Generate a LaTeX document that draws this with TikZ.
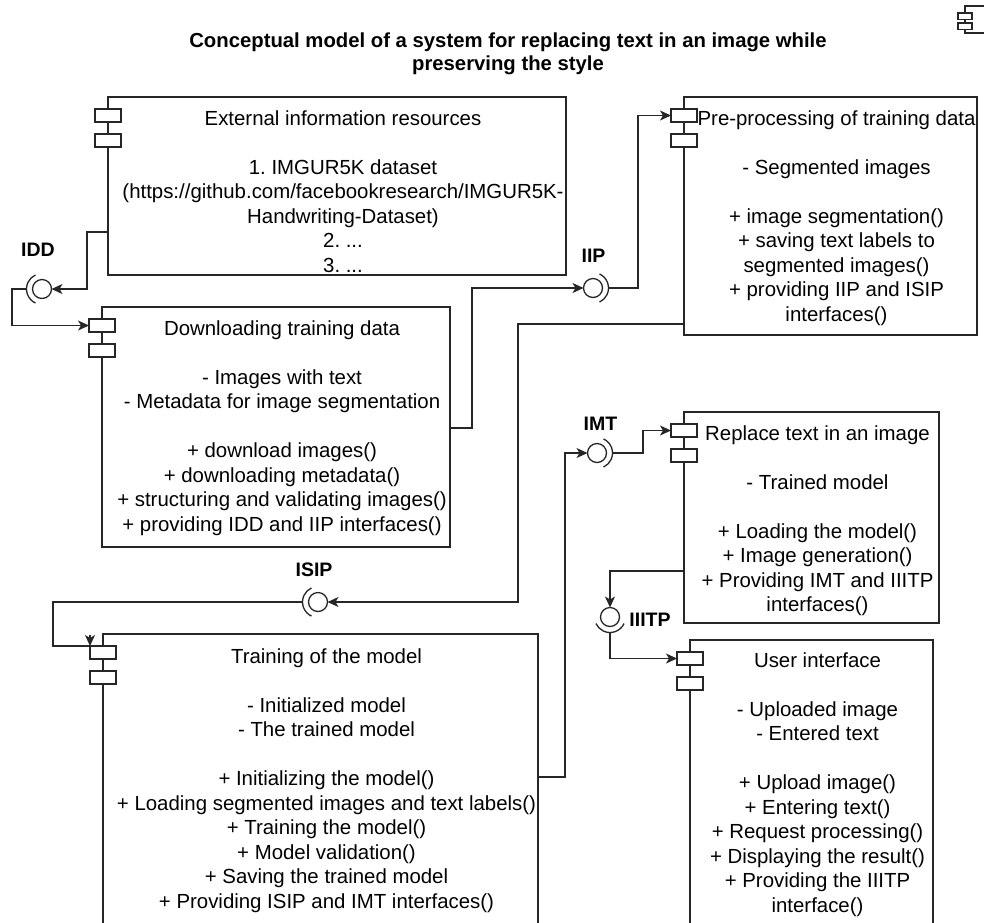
\documentclass[tikz,border=0pt]{standalone}
\usepackage{fontspec}
\setmainfont{Liberation Sans}
\usetikzlibrary{arrows.meta,calc}
\frenchspacing
\begin{document}
\begin{tikzpicture}[x=1pt,y=-1pt,
  wire/.style={draw=black!85, line width=1.3pt},
  conn/.style={wire, -{Stealth[length=11pt,width=10pt,inset=3pt]}},
  compbox/.style={draw=black!85, line width=1.3pt, fill=white, rectangle, inner sep=0, outer sep=0, anchor=north west},
  port/.style={draw=black!85, line width=1.3pt, fill=white, rectangle, inner sep=0, outer sep=0, minimum width=26pt, minimum height=13pt},
  body/.style={inner sep=0, anchor=north, align=center, font=\fontsize{20.4}{24.5}\selectfont},
  ball/.style={circle, draw=black!85, line width=1.3pt, fill=white, minimum size=19pt, inner sep=0, outer sep=0},
  socket/.style={draw=black!85, line width=1.3pt},
  iface/.style={font=\bfseries\fontsize{19.5}{22}\selectfont, inner sep=0},
  heading/.style={font=\bfseries\fontsize{20.3}{23}\selectfont, align=center, inner sep=0, anchor=north}
]
\useasboundingbox (0,0) rectangle (984,922);
\clip (0,0) rectangle (984,922);
\fill[white] (0,0) rectangle (984,922);

% title
\node[heading] (title) at (508,30.9) {\strut Conceptual model of a system for replacing text in an image while\\preserving the style};

% component glyph in the corner
\draw[wire] (1000,6) -- (965,6) -- (965,33) -- (1000,33);
\draw[wire, fill=white] (958,13) rectangle (972,19.5);
\draw[wire, fill=white] (958,23) rectangle (972,29.5);

% components
\node[compbox, minimum width=458pt, minimum height=178pt] (ext) at (108,97) {};
\node[port] (ext-p1) at (108,115.5) {};
\node[port] (ext-p2) at (108,140.5) {};
\node[body] (ext-t) at (343,107.85) {\strut External information resources\\[24.5pt]1. IMGUR5K dataset\\(https://github.com/facebookresearch/IMGUR5K-\\Handwriting-Dataset)\\2. ...\\3. ...};

\node[compbox, minimum width=348pt, minimum height=240pt] (dl) at (102,307) {};
\node[port] (dl-p1) at (102,325.5) {};
\node[port] (dl-p2) at (102,350.5) {};
\node[body] (dl-t) at (282,317.85) {\strut Downloading training data\\[24.5pt]- Images with text\\- Metadata for image segmentation\\[24.5pt]+ download images()\\+ downloading metadata()\\+ structuring and validating images()\\+ providing IDD and IIP interfaces()};

\node[compbox, minimum width=293pt, minimum height=238pt] (pre) at (684,97) {};
\node[port] (pre-p1) at (684,115.5) {};
\node[port] (pre-p2) at (684,140.5) {};
\node[body] (pre-t) at (836.5,107.85) {\strut Pre-processing of training data\\[24.5pt]- Segmented images\\[24.5pt]+ image segmentation()\\+ saving text labels to\\segmented images()\\+ providing IIP and ISIP\\interfaces()};

\node[compbox, minimum width=255pt, minimum height=211pt] (rep) at (684,412) {};
\node[port] (rep-p1) at (684,430.5) {};
\node[port] (rep-p2) at (684,455.5) {};
\node[body] (rep-t) at (817.5,422.85) {\strut Replace text in an image\\[24.5pt]- Trained model\\[24.5pt]+ Loading the model()\\+ Image generation()\\+ Providing IMT and IIITP\\interfaces()};

\node[compbox, minimum width=243pt, minimum height=300pt] (ui) at (690,640) {};
\node[port] (ui-p1) at (690,658.5) {};
\node[port] (ui-p2) at (690,683.5) {};
\node[body] (ui-t) at (817.5,649.85) {\strut User interface\\[24.5pt]- Uploaded image\\- Entered text\\[24.5pt]+ Upload image()\\+ Entering text()\\+ Request processing()\\+ Displaying the result()\\+ Providing the IIITP\\interface()};

\node[compbox, minimum width=435pt, minimum height=300pt] (tr) at (103,634) {};
\node[port] (tr-p1) at (103,652.5) {};
\node[port] (tr-p2) at (103,677.5) {};
\node[body] (tr-t) at (326.5,645.85) {\strut Training of the model\\[24.5pt]- Initialized model\\- The trained model\\[24.5pt]+ Initializing the model()\\+ Loading segmented images and text labels()\\+ Training the model()\\+ Model validation()\\+ Saving the trained model\\+ Providing ISIP and IMT interfaces()};

% IDD interface
\node[ball] (idd) at (42,289) {};
\draw[socket] (idd.center) ++(115:15.5) arc (115:245:15.5);
\coordinate (idd-s) at (26.5,289);
\node[iface] (idd-l) at (38,250) {IDD};
\draw[conn] ($(ext.north west)+(0,135)$) -| (87,289) -- (idd.east);
\draw[conn] (idd-s) -- (12,289) |- (dl-p1.west);

% IIP interface
\node[ball] (iip) at (593,288) {};
\draw[socket] (iip.center) ++(-65:15.5) arc (-65:65:15.5);
\coordinate (iip-s) at (608.5,288);
\node[iface] (iip-l) at (593.5,256) {IIP};
\draw[conn] ($(dl.north east)+(0,121)$) -| (472,288) -- (iip.west);
\draw[conn] (iip-s) -- (638,288) |- (pre-p1.west);

% ISIP interface
\node[ball] (isip) at (318,602) {};
\draw[socket] (isip.center) ++(115:15.5) arc (115:245:15.5);
\coordinate (isip-s) at (302.5,602);
\coordinate (isip-e) at (90,635);
\node[iface] (isip-l) at (314,570) {ISIP};
\draw[conn] ($(pre.north west)+(0,227)$) -| (518,602) -- (isip.east);
\draw[wire] (isip-s) -- (53,602) |- (tr-p1.north west);
\draw[conn] (isip-e) -- (tr-p1.north west);

% IMT interface
\node[ball] (imt) at (597,453) {};
\draw[socket] (imt.center) ++(-65:15.5) arc (-65:65:15.5);
\coordinate (imt-s) at (612.5,453);
\node[iface] (imt-l) at (600.5,424) {IMT};
\draw[conn] ($(tr.north east)+(0,143)$) -| (565,453) -- (imt.west);
\draw[conn] (imt-s) -- (643,453) |- (rep-p1.west);

% IIITP interface
\node[ball] (iiitp) at (610,617) {};
\draw[socket] (iiitp.center) ++(25:15.5) arc (25:155:15.5);
\coordinate (iiitp-s) at (610,632.5);
\node[iface] (iiitp-l) at (650,620) {IIITP};
\draw[conn] ($(rep.north west)+(0,159)$) -| (iiitp.north);
\draw[conn] (iiitp-s) |- (ui-p1.west);
\end{tikzpicture}
\end{document}
